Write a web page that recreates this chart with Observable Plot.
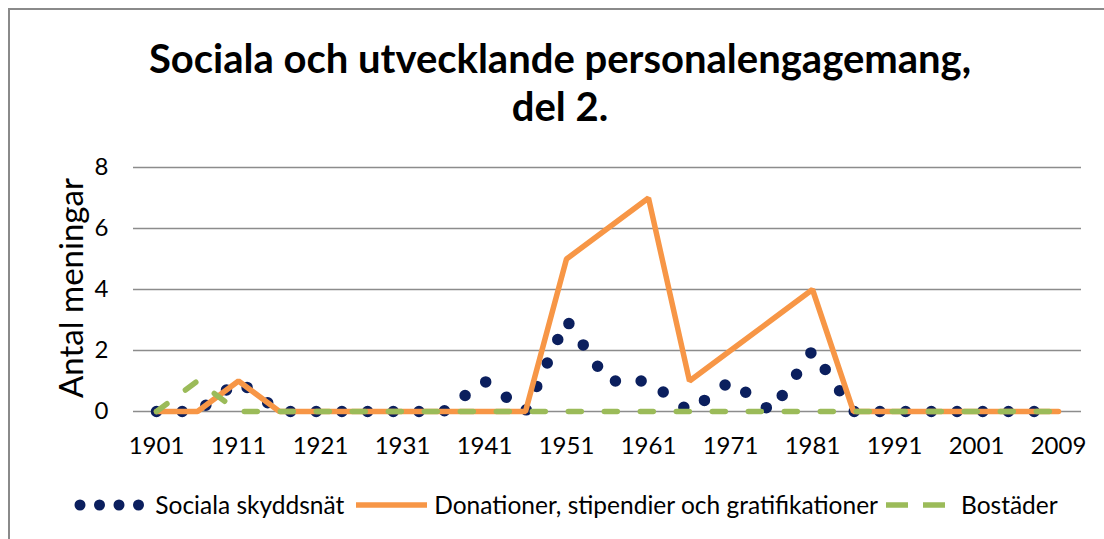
<!DOCTYPE html>
<html><head><meta charset="utf-8">
<script src="https://cdn.jsdelivr.net/npm/d3@7"></script>
<script src="https://cdn.jsdelivr.net/npm/@observablehq/plot@0.6"></script>
<style>
body{margin:0;background:#fff;font-family:Lato,"Open Sans",sans-serif;color:#000;}
#frame{position:relative;width:1104px;height:539px;overflow:hidden;background:#fff;}
#border{position:absolute;left:8px;top:8px;width:1200px;height:700px;border-left:2px solid #8a8a8a;border-top:2px solid #8a8a8a;}
#title{position:absolute;left:0;width:1120px;top:34px;text-align:center;font-weight:700;font-size:40px;line-height:48px;}
#ylabel{position:absolute;left:70px;top:288px;transform:translate(-50%,-50%) rotate(-90deg);font-size:33px;white-space:nowrap;}
#chart{position:absolute;left:0;top:150px;}
#legend{position:absolute;top:490px;left:0;width:1132px;display:flex;justify-content:center;align-items:center;font-size:24.5px;white-space:nowrap;}
#legend svg{display:block;}
</style>
</head><body>
<div id="frame">
  <div id="border"></div>
  <div id="title">Sociala och utvecklande personalengagemang,<br>del 2.</div>
  <div id="chart"></div>
  <div id="ylabel">Antal meningar</div>
  <div id="legend"></div>
</div>
<script>
const years = [1901,1906,1911,1916,1921,1926,1931,1936,1941,1946,1951,1956,1961,1966,1971,1976,1981,1986,1991,1996,2001,2006,2009];
const sociala    = [0,0,1,0,0,0,0,0,1,0,3,1,1,0,1,0,2,0,0,0,0,0,0];
const donationer = [0,0,1,0,0,0,0,0,0,0,5,6,7,1,2,3,4,0,0,0,0,0,0];
const bostader   = [0,1,0,0,0,0,0,0,0,0,0,0,0,0,0,0,0,0,0,0,0,0,0];
const xTicks = [1901,1911,1921,1931,1941,1951,1961,1971,1981,1991,2001,2009];
const yTicks = [0,2,4,6,8];
const seriesNames = ["Sociala skyddsnät","Donationer, stipendier och gratifikationer","Bostäder"];
const navy = "#0b1f5e", orange = "#f79646", green = "#9bbb59";

const data = years.map((y,i)=>({year:y, sociala:sociala[i], donationer:donationer[i], bostader:bostader[i]}));

const plot = Plot.plot({
  width:1104, height:321,
  marginLeft:133, marginRight:23, marginTop:17, marginBottom:60,
  style:{fontFamily:"Lato, sans-serif", fontSize:"24px", color:"#000", background:"transparent", overflow:"visible"},
  x:{type:"point", domain:years, padding:0.5, label:null},
  y:{domain:[0,8], label:null},
  marks:[
    Plot.ruleY(yTicks, {stroke:"#8c8c8c", strokeWidth:1.4}),
    Plot.axisY(yTicks, {tickSize:0, tickPadding:25, label:null, fill:"#000"}),
    Plot.axisX(xTicks, {tickSize:0, tickPadding:25, label:null, fill:"#000", tickFormat:d=>String(d)}),
    Plot.line(data,{x:"year", y:"sociala", stroke:navy, strokeWidth:11.5, strokeDasharray:"0 25.7", strokeLinecap:"round"}),
    Plot.line(data,{x:"year", y:"donationer", stroke:orange, strokeWidth:5.5, strokeLinejoin:"miter", strokeLinecap:"round"}),
    Plot.line(data,{x:"year", y:"bostader", stroke:green, strokeWidth:5.5, strokeDasharray:"13 23", strokeLinecap:"round"})
  ]
});
document.getElementById("chart").appendChild(plot);

// legend
const legend = d3.select("#legend");
const samples = [
  {w:72, draw:s=>s.append("line").attr("x1",6).attr("x2",66).attr("y1",8).attr("y2",8).attr("stroke",navy).attr("stroke-width",11).attr("stroke-linecap","round").attr("stroke-dasharray","0 19.5")},
  {w:71, draw:s=>s.append("line").attr("x1",0).attr("x2",71).attr("y1",8).attr("y2",8).attr("stroke",orange).attr("stroke-width",5.5)},
  {w:60, draw:s=>s.append("line").attr("x1",0).attr("x2",60).attr("y1",8).attr("y2",8).attr("stroke",green).attr("stroke-width",5.5).attr("stroke-dasharray","22 15")}
];
const gaps = [[0,9],[12,7],[8,15]];
seriesNames.forEach((name,i)=>{
  const svg = legend.append("svg").attr("width",samples[i].w).attr("height",16).style("margin-left",gaps[i][0]+"px").style("margin-right",gaps[i][1]+"px");
  samples[i].draw(svg);
  legend.append("span").text(name);
});
</script>
</body></html>
